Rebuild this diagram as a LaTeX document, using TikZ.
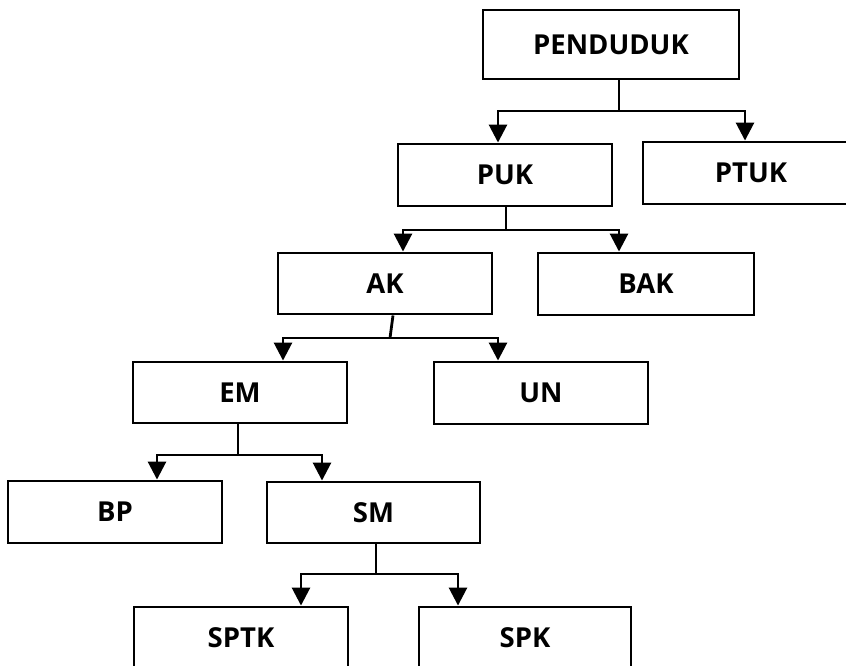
\documentclass[tikz,border=0pt]{standalone}
\usepackage{fontspec}
\setmainfont{Open Sans}
\usetikzlibrary{arrows.meta}
\tikzset{
  box/.style={draw=black, line width=2.9pt, rectangle, inner sep=0pt, fill=white,
    font=\fontsize{27.5}{32}\selectfont\bfseries},
  conn/.style={draw=black, line width=2.8pt},
  arr/.style={conn, -{Triangle[width=18pt,length=18pt]}}
}
\begin{document}
\begin{tikzpicture}[x=1pt,y=-1pt]
\useasboundingbox (0,0) rectangle (846,665);
\clip (0,0) rectangle (846,665);
\fill[white] (0,0) rectangle (846,665);
% boxes
\node[box, minimum width=256pt, minimum height=69pt] (pend) at (611,44.5) {PENDUDUK};
\node[box, minimum width=214pt, minimum height=62pt] (puk) at (505,175) {PUK};
\node[box, minimum width=216pt, minimum height=62pt] (ptuk) at (751,173) {PTUK};
\node[box, minimum width=214pt, minimum height=61pt] (ak) at (385,283.5) {AK};
\node[box, minimum width=216pt, minimum height=62pt] (bak) at (646,284) {BAK};
\node[box, minimum width=214pt, minimum height=61pt] (em) at (240,392.5) {EM};
\node[box, minimum width=214pt, minimum height=62pt] (un) at (541,393) {UN};
\node[box, minimum width=214pt, minimum height=62pt] (bp) at (115,512) {BP};
\node[box, minimum width=213pt, minimum height=61pt] (sm) at (373.5,512.5) {SM};
\node[box, minimum width=214pt, minimum height=62pt] (sptk) at (241,638) {SPTK};
\node[box, minimum width=212pt, minimum height=62pt] (spk) at (525,638) {SPK};
% junctions
\coordinate (j1) at (619,111);
\coordinate (j2) at (506,230);
\coordinate (j3) at (390,338);
\coordinate (j4) at (238,455);
\coordinate (j5) at (376,574);
% connectors
\draw[conn] (pend.south -| j1) -- (j1);
\draw[arr] (j1) -| ([xshift=-7pt]puk.north);
\draw[arr] (j1) -| ([xshift=-6pt]ptuk.north);
\draw[conn] (puk.south -| j2) -- (j2);
\draw[arr] (j2) -| ([xshift=18pt]ak.north);
\draw[arr] (j2) -| ([xshift=-27pt]bak.north);
\draw[conn] ([xshift=8pt]ak.south) -- (j3);
\draw[arr] (j3) -| ([xshift=43pt]em.north);
\draw[arr] (j3) -| ([xshift=-43pt]un.north);
\draw[conn] (em.south -| j4) -- (j4);
\draw[arr] (j4) -| ([xshift=42pt]bp.north);
\draw[arr] (j4) -| ([xshift=-51.5pt]sm.north);
\draw[conn] (sm.south -| j5) -- (j5);
\draw[arr] (j5) -| ([xshift=60pt]sptk.north);
\draw[arr] (j5) -| ([xshift=-67pt]spk.north);
\end{tikzpicture}
\end{document}
